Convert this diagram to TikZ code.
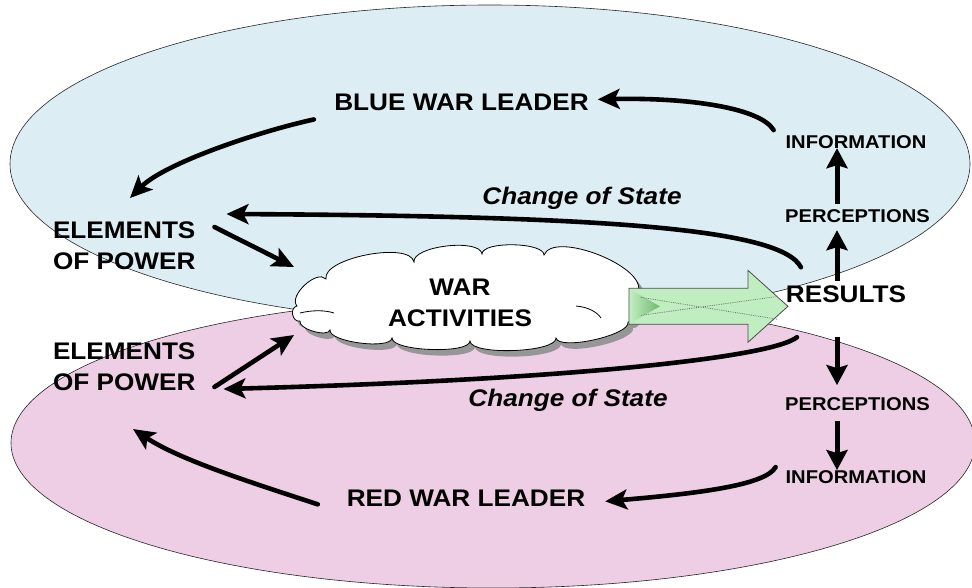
\documentclass[tikz,border=0pt]{standalone}
\usepackage{fontspec}
\setmainfont{Liberation Sans}[FakeStretch=1.09]
\usetikzlibrary{arrows.meta,calc}
\definecolor{bluezone}{RGB}{220,238,244}
\definecolor{redzone}{RGB}{238,206,228}
\definecolor{flowgreen}{RGB}{192,238,192}
\definecolor{flowgreendk}{RGB}{112,184,112}
\definecolor{cloudshadow}{RGB}{150,150,150}
% outline of the war activities cloud, puff by puff
\newcommand\warcloudpath{%
  (297,306) .. controls (288,296) and (317,269) .. (326,279)
  .. controls (322,258) and (410,241) .. (414,262)
  .. controls (412,246) and (480,238) .. (482,254)
  .. controls (482,241) and (544,242) .. (544,255)
  .. controls (554,230) and (648,267) .. (638,292)
  .. controls (646,294.5) and (636,324.5) .. (628,322)
  .. controls (631,335) and (559,351) .. (556,338)
  .. controls (556.5,352.7) and (470.5,355.7) .. (470,341)
  .. controls (469.5,354.3) and (391.5,351.3) .. (392,338)
  .. controls (390.5,350) and (328.5,342) .. (330,330)
  .. controls (327.7,337.7) and (297.7,328.7) .. (300,321)
  .. controls (292.2,322.6) and (289.2,307.6) .. (297,306) -- cycle}
\begin{document}
\begin{tikzpicture}[x=1pt,y=-1pt,
  zone/.style={draw=black!85, line width=0.6pt},
  biglabel/.style={font=\bfseries\fontsize{24}{31}\selectfont, inner sep=0pt, outer sep=0pt},
  smalllabel/.style={font=\bfseries\fontsize{18.5}{22}\selectfont, inner sep=0pt, outer sep=0pt},
  statelabel/.style={font=\bfseries\itshape\fontsize{24}{28}\selectfont, inner sep=0pt, outer sep=0pt},
  flow/.style={line width=4.6pt, line cap=round, -{Stealth[length=22pt,width=20pt,inset=5pt]}},
  vflow/.style={line width=5pt, -{Stealth[length=20pt,width=21pt,inset=3pt]}},
]
\useasboundingbox (0,0) rectangle (972,587);
\clip (0,0) rectangle (972,587);
\fill[white] (0,0) rectangle (972,587);

% the two sides
\draw[zone, fill=bluezone] (490,164) ellipse [x radius=480, y radius=159];
\draw[zone, fill=redzone] (493,443) ellipse [x radius=482, y radius=145];

% war activities cloud with its shadow
\fill[cloudshadow, shift={(5,6)}] \warcloudpath;
\draw[black, line width=0.8pt, fill=white] \warcloudpath;
\draw[black, line width=0.8pt] (300,313) .. controls (312,310) and (325,310) .. (334,313);
\draw[black, line width=0.8pt] (576,306) .. controls (588,307) and (597,312) .. (601,318);
\node[inner sep=0pt, minimum width=345pt, minimum height=100pt] (cloud) at (468,300) {};
\node[biglabel, align=center] (war) at (460,302.5) {WAR\\ACTIVITIES};

% labels
\node[biglabel, anchor=base] (blue) at (461.5,110) {BLUE WAR LEADER};
\node[biglabel, anchor=base] (red) at (466,506) {RED WAR LEADER};
\node[biglabel, align=left, anchor=west] (elem1) at (53,246) {ELEMENTS\\OF POWER};
\node[biglabel, align=left, anchor=west] (elem2) at (53,367) {ELEMENTS\\OF POWER};
\node[biglabel, anchor=base] (results) at (846,302) {RESULTS};
\node[smalllabel, anchor=base] (info1) at (856,148) {INFORMATION};
\node[smalllabel, anchor=base] (perc1) at (857.5,222) {PERCEPTIONS};
\node[smalllabel, anchor=base] (perc2) at (857.5,410) {PERCEPTIONS};
\node[smalllabel, anchor=base] (info2) at (856,483) {INFORMATION};
\node[statelabel, anchor=base] (cs1) at (582,204) {Change of State};
\node[statelabel, anchor=base] (cs2) at (568,406) {Change of State};

% big flow arrow from the cloud to the results
\coordinate (gtip) at ($(results.west)+(2,12.6)$);
\draw[line width=0.8pt, draw=black!70, fill=flowgreen]
  ($(gtip)+(-159,-18)$) -- ++(119,0) -- ++(0,-18) -- (gtip)
  -- ++(-40,36) -- ++(0,-18) -- ++(-119,0) -- cycle;
\shade[left color=flowgreen, right color=flowgreendk]
  ($(gtip)+(-158,-17)$) -- ($(gtip)+(-128,0)$) -- ($(gtip)+(-158,17)$) -- cycle;
\draw[densely dotted, black!55, line width=0.8pt]
  ($(gtip)+(-147,-9)$) -- ($(gtip)+(-10,13)$)
  ($(gtip)+(-147,9)$) -- ($(gtip)+(-10,-10)$);

% blue loop
\draw[flow] ($(info1.north west)+(-12,-5)$) .. controls +(-13,-22) and +(92,-2) .. ($(blue.east)+(9,-2.5)$);
\draw[flow] ($(blue.west)+(-20.5,17.6)$) .. controls +(-55,12) and +(35,-35) .. ($(elem1.north west)+(77,-24)$);
\draw[flow] ($(results.north west)+(15,-18)$) .. controls +(-20,-39) and +(374,2) .. ($(elem1.north east)+(31,-8)$);
\draw[flow] ($(elem1.north east)+(19,5)$) -- ($(cloud.center)+(-174,-33)$);
\draw[vflow] ($(results.north)+(-9,-4)$) -- ($(perc1.south)+(-20.5,8)$);
\draw[vflow] ($(perc1.north)+(-20.5,-5)$) -- ($(info1.south)+(-19,0)$);

% red loop
\draw[vflow] ($(results.south)+(-9,35)$) -- ($(perc2.north)+(-20.5,-12)$);
\draw[vflow] ($(perc2.south)+(-20.5,11)$) -- ($(info2.north)+(-19,0)$);
\draw[flow] ($(info2.north west)+(-10,-3)$) .. controls +(-10,18) and +(94,-8) .. ($(red.east)+(20,3.6)$);
\draw[flow] ($(red.west)+(-29,6.6)$) .. controls +(-67,-22) and +(47,31) .. ($(elem2.south west)+(80,38)$);
\draw[flow] ($(results.south)+(-49,35)$) .. controls +(-27,21) and +(337,-9) .. ($(elem2.south east)+(28,-2)$);
\draw[flow] ($(elem2.south east)+(19,-4)$) -- ($(cloud.center)+(-174,35)$);
\end{tikzpicture}
\end{document}
